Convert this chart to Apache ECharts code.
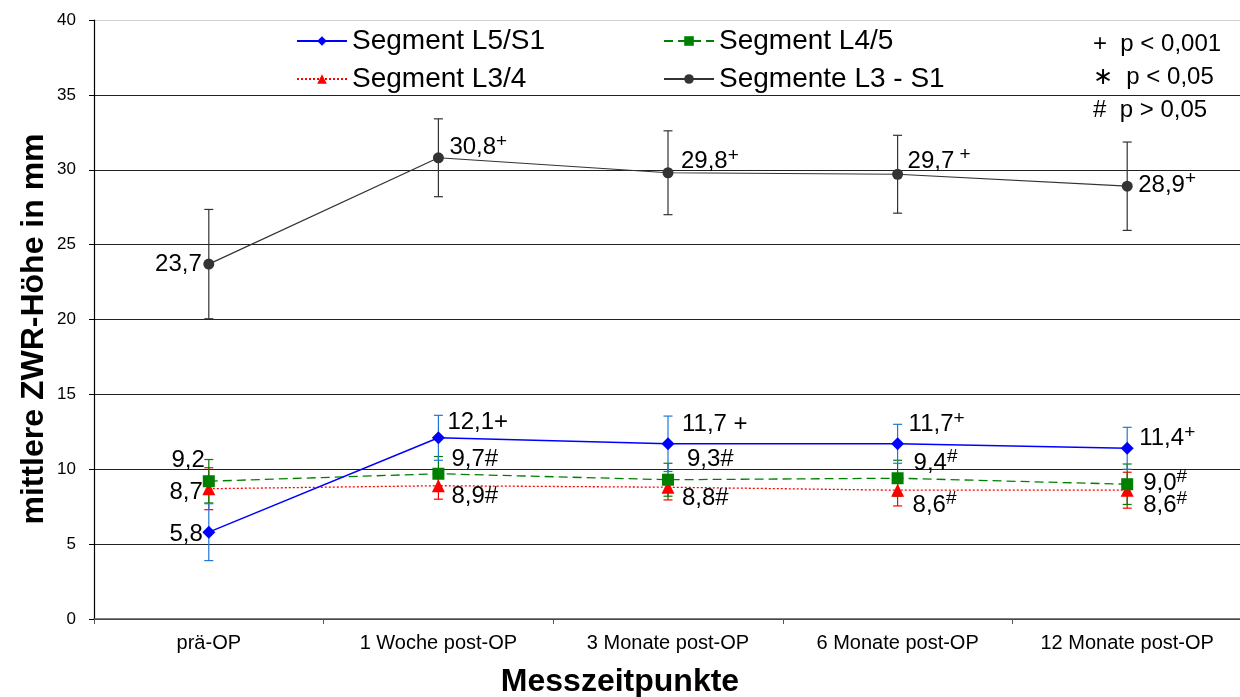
<!DOCTYPE html>
<html><head><meta charset="utf-8">
<script src="https://cdn.jsdelivr.net/npm/echarts@6/dist/echarts.min.js"></script>
<style>html,body{margin:0;padding:0;background:#fff}#c{width:1240px;height:697px}</style>
</head><body><div id="c"></div>
<script>
const categories = ['prä-OP', '1 Woche post-OP', '3 Monate post-OP', '6 Monate post-OP', '12 Monate post-OP'];
const yTicks = [0, 5, 10, 15, 20, 25, 30, 35, 40];

const l5s1 = [5.8, 12.1, 11.7, 11.7, 11.4];
const l5s1Err = [1.9, 1.5, 1.85, 1.3, 1.4];
const l5s1Sig = ['', '+', ' +', '+', '+'];

const l45 = [9.2, 9.7, 9.3, 9.4, 9.0];
const l45Err = [1.45, 1.15, 1.1, 1.2, 1.35];
const l45Sig = ['', '#', '#', '#', '#'];

const l34 = [8.7, 8.9, 8.8, 8.6, 8.6];
const l34Err = [1.4, 0.9, 0.85, 1.05, 1.2];
const l34Sig = ['', '#', '#', '#', '#'];

const l3s1 = [23.7, 30.8, 29.8, 29.7, 28.9];
const l3s1Err = [3.65, 2.6, 2.8, 2.6, 2.95];
const l3s1Sig = ['', '+', '+', ' +', '+'];

const pLegend = ['+  p < 0,001', '∗  p < 0,05', '#  p > 0,05'];
const xTitle = 'Messzeitpunkte';
const yTitle = 'mittlere ZWR-Höhe in mm';

// label layout (positions only): [side, gap from point centre, dy, superscript?]
const l5s1Lay = [['left', 6, 2, 0], ['right', 9, -15, 0], ['right', 14, -19, 0], ['right', 11, -19, 1], ['right', 12, -10, 1]];
const l45Lay  = [['left', 4, -21, 0], ['right', 13, -14, 0], ['right', 19, -20, 0], ['right', 16, -15, 1], ['right', 16, -1, 1]];
const l34Lay  = [['left', 6, 4, 0], ['right', 13, 11, 0], ['right', 14, 11, 0], ['right', 15, 15, 1], ['right', 16, 15, 1]];
const l3s1Lay = [['left', 7, 0, 0], ['right', 11, -10, 1], ['right', 13, -11, 1], ['right', 10, -13, 1], ['right', 11, -1, 1]];

const FONT = 'Liberation Sans, Arial, sans-serif';
const rich = {
  v: { fontSize: 24, color: '#000', fontFamily: FONT },
  i: { fontSize: 24, color: '#000', fontFamily: FONT },
  s: { fontSize: 19, color: '#000', fontFamily: FONT, padding: [0, 0, 12, 0] }
};

function buildData(vals, sigs, lay, symSize) {
  const half = symSize / 2;
  return vals.map((v, k) => {
    const L = lay[k];
    const txt = v.toFixed(1).replace('.', ',');
    let f = '{v|' + txt + '}';
    if (sigs[k]) f += (L[3] ? '{s|' + sigs[k] + '}' : '{i|' + sigs[k] + '}');
    const d = L[1] - half;
    return {
      value: v,
      label: { show: true, position: L[0], distance: 0,
        offset: L[0] === 'left' ? [-d, L[2]] : [d, L[2]], formatter: f, rich: rich }
    };
  });
}

function errSeries(name, vals, errs, color) {
  return {
    type: 'custom', name: name + '_err', z: 1, silent: true,
    data: vals.map((v, k) => [k, v - errs[k], v + errs[k]]),
    renderItem: function (params, api) {
      const lo = api.coord([api.value(0), api.value(1)]);
      const hi = api.coord([api.value(0), api.value(2)]);
      const w = 4.5;
      const st = { stroke: color, lineWidth: 1.2 };
      return { type: 'group', children: [
        { type: 'line', shape: { x1: lo[0], y1: lo[1], x2: hi[0], y2: hi[1] }, style: st },
        { type: 'line', shape: { x1: lo[0] - w, y1: lo[1], x2: lo[0] + w, y2: lo[1] }, style: st },
        { type: 'line', shape: { x1: hi[0] - w, y1: hi[1], x2: hi[0] + w, y2: hi[1] }, style: st }
      ]};
    }
  };
}

const chart = echarts.init(document.getElementById('c'), null, { renderer: 'canvas' });
const gridCols = yTicks.map((t, i) => i === yTicks.length - 1 ? '#d0d0d0' : '#222');
const SYM = { l3s1: 11, l34: 13, l45: 12, l5s1: 13 };
const legendText = { fontSize: 28, color: '#000', fontFamily: FONT };

chart.setOption({
  animation: false,
  backgroundColor: '#fff',
  textStyle: { fontFamily: FONT },
  grid: { left: 94, right: -2, top: 20, bottom: 78, containLabel: false, outerBoundsMode: 'none' },
  legend: [
    { data: ['Segment L5/S1', 'Segment L3/4'], orient: 'vertical', left: 291, top: 22,
      itemWidth: 50, itemHeight: 12, itemGap: 10, textStyle: legendText },
    { data: ['Segment L4/5', 'Segmente L3 - S1'], orient: 'vertical', left: 658, top: 22,
      itemWidth: 50, itemHeight: 12, itemGap: 10, textStyle: legendText }
  ],
  xAxis: {
    type: 'category', data: categories, boundaryGap: true,
    axisLine: { lineStyle: { color: '#555', width: 1.5 } },
    axisTick: { show: true, length: 5, lineStyle: { color: '#555' } },
    axisLabel: { fontSize: 20, color: '#000', margin: 14 }
  },
  yAxis: {
    type: 'value', min: 0, max: 40, interval: 5,
    axisLine: { show: true, lineStyle: { color: '#000', width: 1.2 } },
    axisTick: { show: true, length: 5, lineStyle: { color: '#000' } },
    axisLabel: { fontSize: 17, color: '#000', margin: 18 },
    splitLine: { show: true, lineStyle: { color: gridCols, width: 1.2 } }
  },
  graphic: pLegend.map((t, i) => ({
    type: 'text', left: 1093, top: 32 + i * 33,
    style: { text: t, fontSize: 24, fill: '#000', fontFamily: FONT }
  })).concat([
    { type: 'text', x: 620, y: 682,
      style: { text: xTitle, fontSize: 32, fontWeight: 'bold', fill: '#000', fontFamily: FONT,
        align: 'center', verticalAlign: 'middle' } },
    { type: 'text', x: 34, y: 329, rotation: Math.PI / 2,
      style: { text: yTitle, fontSize: 32, fontWeight: 'bold', fill: '#000', fontFamily: FONT,
        align: 'center', verticalAlign: 'middle' } }
  ]),
  series: [
    errSeries('l3s1', l3s1, l3s1Err, '#333'),
    errSeries('l34', l34, l34Err, '#ff0000'),
    errSeries('l45', l45, l45Err, '#008000'),
    errSeries('l5s1', l5s1, l5s1Err, '#1f78d8'),
    { name: 'Segmente L3 - S1', type: 'line', z: 3, data: buildData(l3s1, l3s1Sig, l3s1Lay, SYM.l3s1),
      symbol: 'circle', symbolSize: SYM.l3s1, itemStyle: { color: '#333' },
      lineStyle: { color: '#333', width: 1.2 } },
    { name: 'Segment L3/4', type: 'line', z: 4, data: buildData(l34, l34Sig, l34Lay, SYM.l34),
      symbol: 'triangle', symbolSize: SYM.l34, itemStyle: { color: '#ff0000' },
      lineStyle: { color: '#ff0000', width: 1.3, type: [2, 2] } },
    { name: 'Segment L4/5', type: 'line', z: 5, data: buildData(l45, l45Sig, l45Lay, SYM.l45),
      symbol: 'rect', symbolSize: SYM.l45, itemStyle: { color: '#008000' },
      lineStyle: { color: '#008000', width: 1.3, type: [9, 5] } },
    { name: 'Segment L5/S1', type: 'line', z: 6, data: buildData(l5s1, l5s1Sig, l5s1Lay, SYM.l5s1),
      symbol: 'diamond', symbolSize: SYM.l5s1, itemStyle: { color: '#0000ff' },
      lineStyle: { color: '#0000ff', width: 1.5 } }
  ]
});
</script></body></html>
